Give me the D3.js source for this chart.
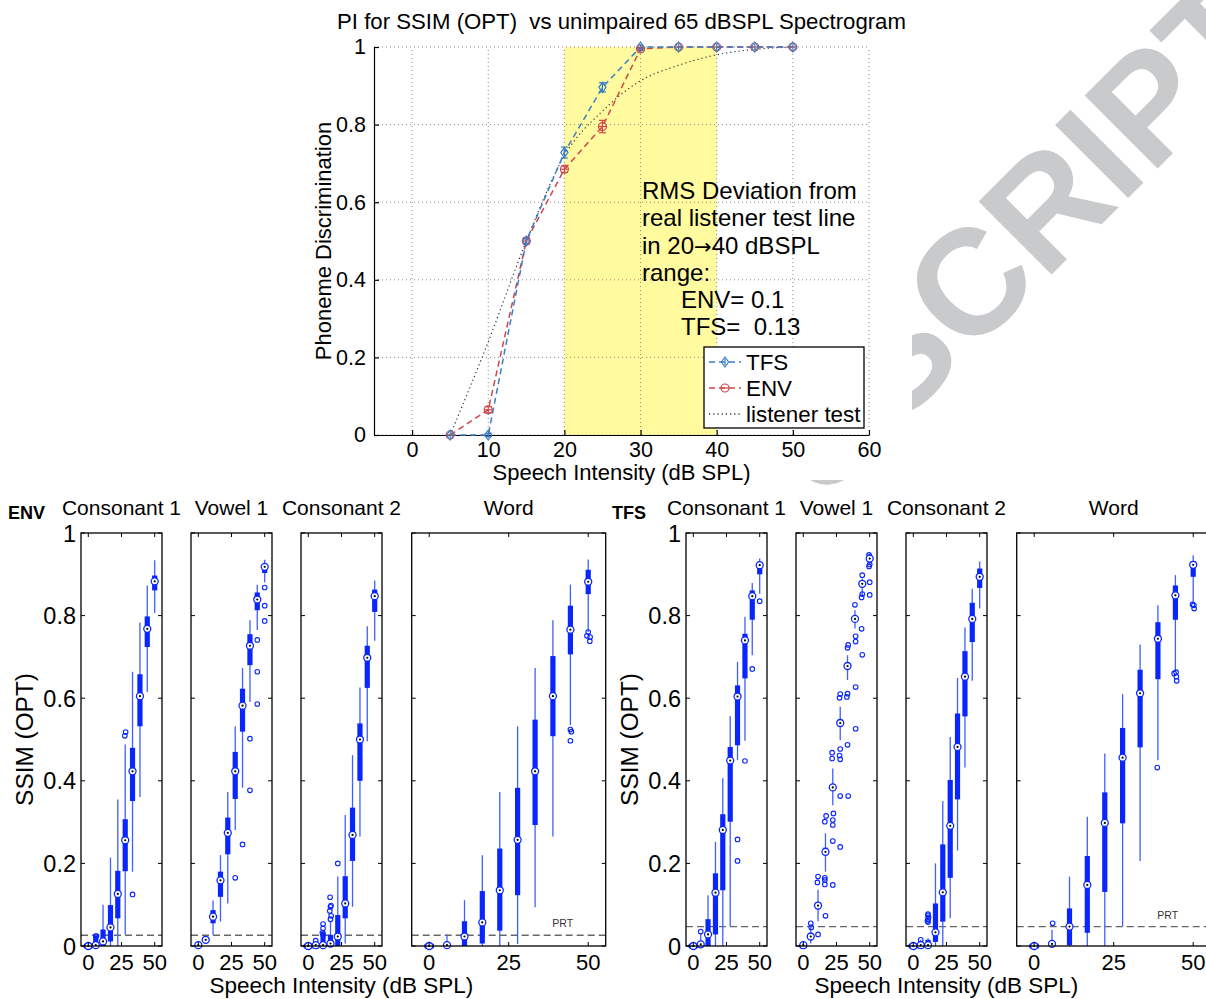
<!DOCTYPE html>
<html>
<head>
<meta charset="utf-8">
<script src="https://cdn.jsdelivr.net/npm/d3@7"></script>
<style>
  body { margin: 0; background: #fff; }
  svg { font-family: "Liberation Sans", Arial, Helvetica, sans-serif; }
  text { white-space: pre; }
</style>
</head>
<body>
<div id="chart"></div>
<script>
// ---------- data: top chart ----------
const levelsTop = [5, 10, 15, 20, 25, 30, 35, 40, 45, 50];
const tfsPI = [0, 0, 0.5, 0.728, 0.896, 1, 1, 1, 1, 1];
const tfsErr = [0, 0.004, 0.006, 0.014, 0.012, 0, 0, 0, 0, 0];
const envPI = [0, 0.065, 0.5, 0.685, 0.795, 0.995, 1, 1, 1, 1];
const envErr = [0, 0.008, 0.008, 0.008, 0.016, 0.004, 0, 0, 0, 0];
const listenerPI = [0, 0.24, 0.5, 0.72, 0.835, 0.913, 0.953, 0.98, 0.994, 1];
const bandRange = [20, 40];
const xTopTicks = [0, 10, 20, 30, 40, 50, 60];
const yTopTicks = [0, 0.2, 0.4, 0.6, 0.8, 1];
const noteLines = ["RMS Deviation from", "real listener test line", "in 20|40 dBSPL", "range:"];
const noteValues = ["ENV= 0.1", "TFS=  0.13"];

// ---------- data: box plots ----------
// positions of the boxes (dB SPL)
const levels = [0, 5.6, 11.1, 16.7, 22.2, 27.8, 33.3, 38.9, 44.4, 50];
const panelTitles = ["Consonant 1", "Vowel 1", "Consonant 2", "Word"];
const xBoxTicks = [0, 25, 50];
const yBoxTicks = [0, 0.2, 0.4, 0.6, 0.8, 1];
const prtEnv = 0.026;
const prtTfs = 0.047;

// each row: [lower whisker, q1, median, q3, upper whisker]
const envC1 = [[0,0,0,0.003,0.003],[0,0,0.002,0.025,0.027],[0,0,0.011,0.04,0.1],[0,0.011,0.045,0.099,0.214],
  [0,0.067,0.126,0.182,0.355],[0.028,0.181,0.256,0.307,0.488],[0.18,0.351,0.423,0.48,0.664],
  [0.361,0.532,0.605,0.658,0.783],[0.615,0.724,0.768,0.798,0.873],[0.806,0.861,0.883,0.897,0.934]];
const envV1 = [[0,0,0.002,0.004,0.005],[0.008,0.011,0.015,0.019,0.025],[0.027,0.055,0.071,0.087,0.11],
  [0.059,0.119,0.159,0.18,0.22],[0.103,0.222,0.274,0.311,0.373],[0.281,0.356,0.423,0.47,0.532],
  [0.383,0.519,0.582,0.623,0.673],[0.591,0.68,0.727,0.755,0.789],[0.765,0.813,0.839,0.856,0.875],
  [0.881,0.903,0.918,0.925,0.935]];
const envC2 = [[0,0,0,0.002,0.002],[0,0,0.002,0.006,0.01],[0,0,0.002,0.035,0.039],[0,0,0.006,0.027,0.059],
  [0,0,0.023,0.075,0.168],[0.006,0.067,0.103,0.169,0.317],[0.095,0.206,0.269,0.335,0.462],
  [0.265,0.4,0.5,0.539,0.626],[0.496,0.625,0.698,0.727,0.774],[0.739,0.809,0.847,0.863,0.885]];
const envWord = [[0,0,0,0.002,0.002],[0,0,0.002,0.004,0.028],[0,0,0.023,0.06,0.111],[0,0.006,0.057,0.133,0.22],
  [0,0.037,0.135,0.236,0.373],[0.005,0.123,0.257,0.383,0.532],[0.094,0.293,0.423,0.548,0.673],
  [0.265,0.508,0.605,0.702,0.789],[0.535,0.706,0.766,0.824,0.875],[0.76,0.852,0.882,0.911,0.936]];
const tfsC1 = [[0,0,0,0.002,0.002],[0,0,0.004,0.01,0.03],[0,0,0.028,0.065,0.123],[0,0.028,0.129,0.176,0.252],
  [0,0.135,0.281,0.319,0.406],[0.047,0.301,0.449,0.482,0.556],[0.45,0.486,0.604,0.631,0.688],
  [0.497,0.648,0.74,0.756,0.797],[0.704,0.79,0.847,0.861,0.879],[0.853,0.9,0.922,0.93,0.938]];
const tfsV1 = [[0,0,0.002,0.004,0.005],[0.006,0.018,0.023,0.028,0.051],[0.06,0.09,0.098,0.106,0.136],
  [0.18,0.22,0.228,0.238,0.273],[0.341,0.377,0.384,0.392,0.43],[0.498,0.532,0.54,0.548,0.579],
  [0.644,0.672,0.678,0.684,0.704],[0.769,0.787,0.792,0.797,0.813],[0.849,0.872,0.877,0.882,0.89],
  [0.922,0.934,0.938,0.942,0.946]];
const tfsC2 = [[0,0,0,0.002,0.002],[0,0,0.002,0.008,0.015],[0,0,0.002,0.015,0.019],[0,0.01,0.033,0.103,0.2],
  [0,0.059,0.13,0.246,0.351],[0.067,0.165,0.291,0.402,0.506],[0.231,0.355,0.482,0.563,0.649],
  [0.432,0.556,0.652,0.714,0.771],[0.642,0.736,0.792,0.831,0.865],[0.817,0.867,0.894,0.914,0.931]];
const tfsWord = [[0,0,0,0.002,0.002],[0,0,0.005,0.01,0.039],[0,0.002,0.047,0.091,0.168],[0,0.032,0.148,0.218,0.313],
  [0,0.131,0.298,0.372,0.466],[0.047,0.297,0.456,0.528,0.61],[0.206,0.481,0.612,0.669,0.73],
  [0.45,0.646,0.744,0.784,0.825],[0.664,0.79,0.849,0.873,0.898],[0.829,0.894,0.923,0.932,0.946]];

// outliers: [box index, value, jitter in dB]
const blobNarrow = [[0,0,-1.6],[0,0,-0.8],[0,0,0],[0,0,0.8],[0,0,1.6]];
const blobWide = [[0,0,-0.7],[0,0,-0.35],[0,0,0],[0,0,0.35],[0,0,0.7]];
const envC1Out = blobNarrow.concat([[1,0.024,0],[1,0.024,0.6],[5,0.518,0.3],[5,0.509,-0.3],[6,0.125,0]]);
const envV1Out = [[0,0.002,0],[5,0.165,0],[6,0.246,0],[7,0.377,0],[7,0.502,0],[8,0.586,0],[8,0.664,0],
  [8,0.741,0],[9,0.787,0],[9,0.824,0],[9,0.868,0]];
const envC2Out = blobNarrow.concat([[1,0,-0.8],[1,0.003,0],[1,0,0.8],[1,0.013,0],[2,0.027,0],[2,0.032,-0.5],
  [2,0.043,0],[2,0.053,0],[3,0.065,0],[3,0.073,0.5],[3,0.085,-0.5],[3,0.095,0],[3,0.098,0.4],[3,0.118,-0.3],[4,0.2,0]]);
const envWordOut = blobWide.concat([[8,0.524,0],[8,0.519,0.3],[8,0.497,0],[9,0.76,0],[9,0.751,-0.4],
  [9,0.748,0.6],[9,0.738,0.5]]);
const tfsC1Out = blobNarrow.concat([[1,0.035,0],[6,0.258,0],[6,0.206,0],[7,0.448,0],[8,0.671,0],[9,0.835,0]]);
const tfsV1Out = [[0,0,-0.8],[0,0,0.8],[1,0.055,0],[1,0.045,0.4],[2,0.028,0],[2,0.168,0],[2,0.154,-0.5],
  [3,0.073,0],[3,0.165,-0.5],[3,0.16,-0.5],[3,0.149,-0.5],[3,0.301,-0.5],[3,0.315,0.5],
  [4,0.148,0],[4,0.254,0],[4,0.293,0],[4,0.305,0],[4,0.321,0.5],[4,0.454,-0.5],[4,0.468,-0.5],
  [5,0.24,0],[5,0.363,0],[5,0.452,0],[5,0.461,-0.5],[5,0.477,0],[5,0.601,-0.5],[5,0.61,0],
  [6,0.363,0.5],[6,0.487,0],[6,0.603,-0.5],[6,0.611,0],[6,0.722,0],[6,0.729,0.5],
  [7,0.526,0.5],[7,0.627,0.5],[7,0.737,0.5],[7,0.75,0.5],[7,0.826,0],
  [8,0.705,0],[8,0.768,-0.5],[8,0.844,-0.5],[8,0.852,0],[8,0.898,0],
  [9,0.85,0],[9,0.881,0],[9,0.919,-0.5],[9,0.924,0],[9,0.947,-0.5],[9,0.942,0]];
const tfsC2Out = blobNarrow.concat([[1,0,-0.8],[1,0.004,0],[1,0,0.8],[1,0.015,0],[2,0.058,0],[2,0.061,-0.5],
  [2,0.065,0],[2,0.069,0.4],[2,0.073,0],[2,0.077,0]]);
const tfsWordOut = blobWide.concat([[1,0.055,0.2],[7,0.432,-0.2],[8,0.66,-0.4],[8,0.663,0.2],[8,0.652,0.3],
  [8,0.642,0.4],[9,0.827,-0.2],[9,0.825,0.2],[9,0.817,0.3]]);

// ---------- svg ----------
const W = 1206, H = 999;
const svg = d3.select("#chart").append("svg").attr("width", W).attr("height", H);
svg.append("rect").attr("width", W).attr("height", H).attr("fill", "#fff");

// watermark, mostly hidden behind the two figures
svg.append("text")
  .attr("transform", "translate(1286,40) rotate(-45)")
  .attr("text-anchor", "end")
  .attr("font-size", 150).attr("font-weight", "bold")
  .attr("fill", "#c9cacc")
  .text("USCRIPT");
svg.append("rect").attr("x", 0).attr("y", 0).attr("width", 912).attr("height", 480).attr("fill", "#fff");
svg.append("rect").attr("x", 0).attr("y", 493).attr("width", W).attr("height", H - 493).attr("fill", "#fff");

const tfsColor = "#3a7fc6", envColor = "#d0464b";

/*
  Top chart
*/
const xTop = d3.scaleLinear().domain([-5, 60]).range([374, 869]);
const yTop = d3.scaleLinear().domain([0, 1]).range([435, 47]);
const gt = svg.append("g");

gt.append("rect")
  .attr("x", xTop(bandRange[0])).attr("y", yTop(1))
  .attr("width", xTop(bandRange[1]) - xTop(bandRange[0]))
  .attr("height", yTop(0) - yTop(1))
  .attr("fill", "#fffb9e");

// grid
gt.selectAll(".vgrid").data(xTopTicks).enter().append("line")
  .attr("x1", d => xTop(d)).attr("x2", d => xTop(d))
  .attr("y1", yTop(0)).attr("y2", yTop(1))
  .attr("stroke", "#8a8a8a").attr("stroke-width", 1).attr("stroke-dasharray", "1,3");
gt.selectAll(".hgrid").data(yTopTicks).enter().append("line")
  .attr("x1", xTop(-5)).attr("x2", xTop(60))
  .attr("y1", d => yTop(d)).attr("y2", d => yTop(d))
  .attr("stroke", "#8a8a8a").attr("stroke-width", 1).attr("stroke-dasharray", "1,3");

// axes
gt.append("g")
  .attr("transform", `translate(0,${yTop(0)})`)
  .call(d3.axisBottom(xTop).tickValues(xTopTicks).tickSizeInner(-5).tickSizeOuter(0).tickPadding(7))
  .call(g => g.selectAll("text").attr("font-size", 21.5).attr("fill", "#000").attr("font-family", null))
  .call(g => g.selectAll("line, path").attr("stroke", "#000").attr("stroke-width", 1.2));
gt.append("g")
  .attr("transform", `translate(${xTop(-5)},0)`)
  .call(d3.axisLeft(yTop).tickValues(yTopTicks).tickFormat(d3.format("~g")).tickSizeInner(-5).tickSizeOuter(0).tickPadding(8))
  .call(g => g.selectAll("text").attr("font-size", 21.5).attr("fill", "#000").attr("font-family", null))
  .call(g => g.selectAll("line, path").attr("stroke", "#000").attr("stroke-width", 1.2));

// lines
const lineTop = (vals, curve) => d3.line()
  .x((d, i) => xTop(levelsTop[i])).y(d => yTop(d)).curve(curve)(vals);

gt.append("path").attr("d", lineTop(listenerPI, d3.curveMonotoneX))
  .attr("fill", "none").attr("stroke", "#333").attr("stroke-width", 1.2).attr("stroke-dasharray", "1.2,3");
gt.append("path").attr("d", lineTop(envPI, d3.curveLinear))
  .attr("fill", "none").attr("stroke", envColor).attr("stroke-width", 1.5).attr("stroke-dasharray", "6,4");
gt.append("path").attr("d", lineTop(tfsPI, d3.curveLinear))
  .attr("fill", "none").attr("stroke", tfsColor).attr("stroke-width", 1.5).attr("stroke-dasharray", "6,4");

// error bars + markers
function drawErr(vals, errs, color) {
  const g = gt.append("g").attr("stroke", color).attr("stroke-width", 1.2).attr("fill", "none");
  vals.forEach((v, i) => {
    if (errs[i] <= 0) return;
    const x = xTop(levelsTop[i]);
    g.append("line").attr("x1", x).attr("x2", x).attr("y1", yTop(v - errs[i])).attr("y2", yTop(v + errs[i]));
    [v - errs[i], v + errs[i]].forEach(e => g.append("line")
      .attr("x1", x - 3.5).attr("x2", x + 3.5).attr("y1", yTop(e)).attr("y2", yTop(e)));
  });
}
drawErr(envPI, envErr, envColor);
drawErr(tfsPI, tfsErr, tfsColor);

function envMarker(g, x, y) {
  g.append("circle").attr("cx", x).attr("cy", y).attr("r", 4)
    .attr("fill", "none").attr("stroke", envColor).attr("stroke-width", 1.2);
  g.append("line").attr("x1", x - 4).attr("x2", x + 4).attr("y1", y).attr("y2", y)
    .attr("stroke", envColor).attr("stroke-width", 1.2);
}
function tfsMarker(g, x, y) {
  g.append("path").attr("d", `M${x},${y - 5}L${x + 3.6},${y}L${x},${y + 5}L${x - 3.6},${y}Z`)
    .attr("fill", "none").attr("stroke", tfsColor).attr("stroke-width", 1.2);
  g.append("line").attr("x1", x).attr("x2", x).attr("y1", y - 3).attr("y2", y + 3)
    .attr("stroke", tfsColor).attr("stroke-width", 1.2);
}
envPI.forEach((v, i) => envMarker(gt, xTop(levelsTop[i]), yTop(v)));
tfsPI.forEach((v, i) => tfsMarker(gt, xTop(levelsTop[i]), yTop(v)));

// title, labels
gt.append("text").attr("x", (xTop(-5) + xTop(60)) / 2).attr("y", 29)
  .attr("text-anchor", "middle").attr("font-size", 22.2)
  .text("PI for SSIM (OPT)  vs unimpaired 65 dBSPL Spectrogram");
gt.append("text").attr("x", (xTop(-5) + xTop(60)) / 2).attr("y", 480)
  .attr("text-anchor", "middle").attr("font-size", 22)
  .text("Speech Intensity (dB SPL)");
gt.append("text").attr("transform", `translate(331,${(yTop(0) + yTop(1)) / 2}) rotate(-90)`)
  .attr("text-anchor", "middle").attr("font-size", 22)
  .text("Phoneme Discrimination");

// annotation (the arrow is drawn from a font with a wide glyph)
noteLines.forEach((t, i) => {
  const tx = gt.append("text").attr("x", 642).attr("y", 199 + i * 27.4).attr("font-size", 24);
  const parts = t.split("|");
  tx.append("tspan").text(parts[0]);
  if (parts.length > 1) {
    tx.append("tspan").attr("font-family", "DejaVu Sans").attr("font-size", 21).text("\u2192");
    tx.append("tspan").text(parts[1]);
  }
});
noteValues.forEach((t, i) => gt.append("text").attr("x", 681).attr("y", 308 + i * 27.4)
  .attr("font-size", 24).text(t));

// legend
const lg = gt.append("g");
lg.append("rect").attr("x", 704).attr("y", 347).attr("width", 160).attr("height", 81)
  .attr("fill", "#fff").attr("stroke", "#000").attr("stroke-width", 1.3);
const legendRows = [
  { name: "TFS", color: tfsColor, dash: "6,4", mk: tfsMarker },
  { name: "ENV", color: envColor, dash: "6,4", mk: envMarker },
  { name: "listener test", color: "#333", dash: "1.2,3", mk: null }
];
legendRows.forEach((r, i) => {
  const y = 362 + i * 26;
  lg.append("line").attr("x1", 709).attr("x2", 741).attr("y1", y).attr("y2", y)
    .attr("stroke", r.color).attr("stroke-width", 1.5).attr("stroke-dasharray", r.dash);
  if (r.mk) r.mk(lg, 725, y);
  lg.append("text").attr("x", 746).attr("y", y + 8).attr("font-size", 22.4).text(r.name);
});

/*
  Box plot panels
*/
const panelTop = 533, panelBottom = 946;
const yBox = d3.scaleLinear().domain([0, 1]).range([panelBottom, panelTop]);
const boxBlue = "#0a26ff", whiskerBlue = "#3f5fff";

function drawPanel(left, width, stats, outs, title, prt, showY, showPrt) {
  const x = d3.scaleLinear().domain([-5.5, 55.5]).range([left, left + width]);
  const g = svg.append("g");

  // PRT line
  g.append("line").attr("x1", left).attr("x2", left + width)
    .attr("y1", yBox(prt)).attr("y2", yBox(prt))
    .attr("stroke", "#666").attr("stroke-width", 1.4).attr("stroke-dasharray", "7,4");
  if (showPrt) g.append("text").attr("x", x(42)).attr("y", yBox(prt) - 8)
    .attr("text-anchor", "middle").attr("font-size", 10.5).attr("fill", "#333").text("PRT");

  // whiskers and boxes
  stats.forEach((s, i) => {
    const cx = x(levels[i]);
    g.append("line").attr("x1", cx).attr("x2", cx).attr("y1", yBox(s[0])).attr("y2", yBox(s[4]))
      .attr("stroke", whiskerBlue).attr("stroke-width", 1.3);
    g.append("rect").attr("x", cx - 2.6).attr("width", 5.2)
      .attr("y", yBox(s[3])).attr("height", Math.max(1, yBox(s[1]) - yBox(s[3])))
      .attr("fill", boxBlue);
  });
  // outliers
  outs.forEach(o => {
    g.append("circle").attr("cx", x(levels[o[0]] + o[2])).attr("cy", yBox(o[1])).attr("r", 2.3)
      .attr("fill", "none").attr("stroke", boxBlue).attr("stroke-width", 1.1);
  });
  // medians
  stats.forEach((s, i) => {
    const cx = x(levels[i]);
    g.append("circle").attr("cx", cx).attr("cy", yBox(s[2])).attr("r", 3.5)
      .attr("fill", "#fff").attr("stroke", boxBlue).attr("stroke-width", 1.3);
    g.append("circle").attr("cx", cx).attr("cy", yBox(s[2])).attr("r", 1.1).attr("fill", "#000");
  });

  // frame and ticks
  g.append("rect").attr("x", left).attr("y", panelTop).attr("width", width).attr("height", panelBottom - panelTop)
    .attr("fill", "none").attr("stroke", "#000").attr("stroke-width", 1.3);
  yBoxTicks.forEach(t => {
    g.append("line").attr("x1", left).attr("x2", left + 4).attr("y1", yBox(t)).attr("y2", yBox(t)).attr("stroke", "#000");
    g.append("line").attr("x1", left + width - 4).attr("x2", left + width).attr("y1", yBox(t)).attr("y2", yBox(t)).attr("stroke", "#000");
  });
  xBoxTicks.forEach(t => {
    g.append("line").attr("x1", x(t)).attr("x2", x(t)).attr("y1", panelBottom).attr("y2", panelBottom - 4).attr("stroke", "#000");
    g.append("line").attr("x1", x(t)).attr("x2", x(t)).attr("y1", panelTop).attr("y2", panelTop + 4).attr("stroke", "#000");
    g.append("text").attr("x", x(t)).attr("y", 970).attr("text-anchor", "middle")
      .attr("font-size", 22).text(t);
  });
  if (showY) {
    yBoxTicks.forEach(t => g.append("text").attr("x", left - 5).attr("y", yBox(t) + 8.5)
      .attr("text-anchor", "end").attr("font-size", 23.5).text(d3.format("~g")(t)));
  }
  g.append("text").attr("x", left + width / 2).attr("y", 515).attr("text-anchor", "middle")
    .attr("font-size", 21).text(title);
}

const panelLefts = [81, 191, 301, 411.7];
const panelWidths = [81, 81, 81, 194];
const groupShift = 605;

const envStats = [envC1, envV1, envC2, envWord];
const envOuts = [envC1Out, envV1Out, envC2Out, envWordOut];
const tfsStats = [tfsC1, tfsV1, tfsC2, tfsWord];
const tfsOuts = [tfsC1Out, tfsV1Out, tfsC2Out, tfsWordOut];

envStats.forEach((s, k) => drawPanel(panelLefts[k], panelWidths[k], s, envOuts[k], panelTitles[k], prtEnv, k === 0, k === 3));
tfsStats.forEach((s, k) => drawPanel(panelLefts[k] + groupShift, panelWidths[k], s, tfsOuts[k], panelTitles[k], prtTfs, k === 0, k === 3));

// group labels
svg.append("text").attr("x", 8).attr("y", 519).attr("font-size", 18).attr("font-weight", "bold").text("ENV");
svg.append("text").attr("x", 612).attr("y", 519).attr("font-size", 18).attr("font-weight", "bold").text("TFS");
[0, groupShift].forEach(shift => {
  const l = panelLefts[0] + shift;
  svg.append("text").attr("transform", `translate(${l - 48},${(panelTop + panelBottom) / 2}) rotate(-90)`)
    .attr("text-anchor", "middle").attr("font-size", 24.4).text("SSIM (OPT)");
  svg.append("text").attr("x", (panelLefts[0] + panelLefts[3] + panelWidths[3]) / 2 - 2 + shift).attr("y", 993)
    .attr("text-anchor", "middle").attr("font-size", 22.5).text("Speech Intensity (dB SPL)");
});
</script>
</body>
</html>
